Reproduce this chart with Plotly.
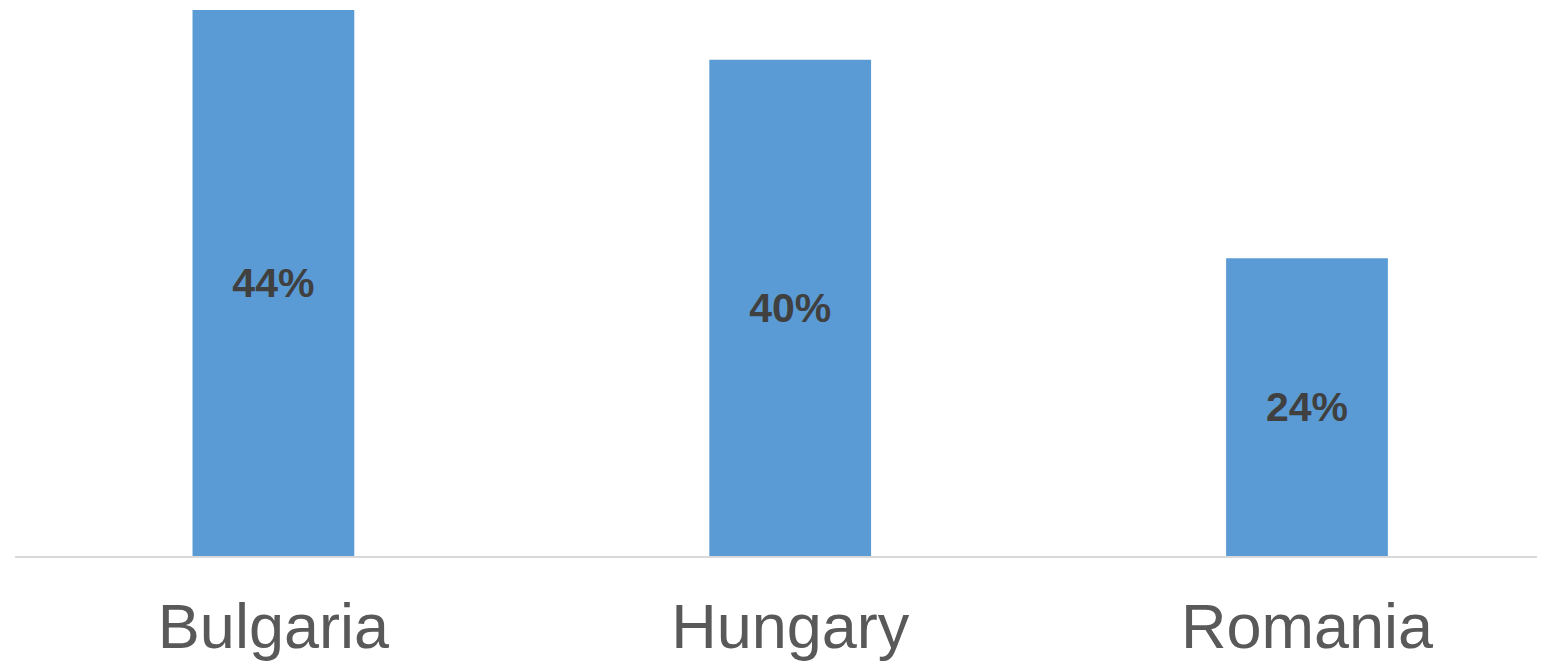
import plotly.graph_objects as go

countries = ["Bulgaria", "Hungary", "Romania"]
shares = [44, 40, 24]
share_labels = ["44%", "40%", "24%"]

BAR_COLOR = "#5B9BD5"
TEXT_DARK = "#404040"
TICK_GREY = "#595959"

fig = go.Figure(
    go.Bar(
        x=countries,
        y=shares,
        text=share_labels,
        textposition="inside",
        insidetextanchor="middle",
        textangle=0,
        textfont=dict(family="Liberation Sans, Arial", size=41, color=TEXT_DARK, weight="bold"),
        marker=dict(color=BAR_COLOR, line=dict(width=0)),
        width=0.313,
        hoverinfo="skip",
    )
)

# page body adds an 8px offset, so margins are trimmed to compensate
fig.update_layout(
    width=1545,
    height=669,
    plot_bgcolor="white",
    paper_bgcolor="white",
    showlegend=False,
    margin=dict(l=7, r=0, t=2, b=121),
)
fig.update_xaxes(
    range=[-0.5, 2.476],
    showline=True,
    linecolor="#D9D9D9",
    linewidth=2,
    ticks="",
    showgrid=False,
    ticklabelstandoff=14,
    tickfont=dict(family="Liberation Sans, Arial", size=63, color=TICK_GREY),
)
fig.update_yaxes(
    range=[0, 44],
    visible=False,
    showgrid=False,
    zeroline=False,
)

fig.write_html("out.html")
